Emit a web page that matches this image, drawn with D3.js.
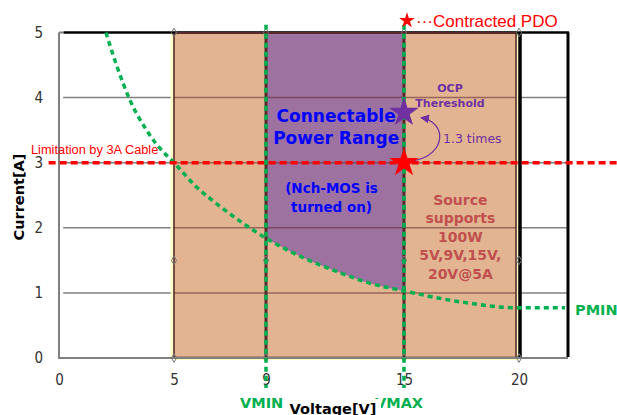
<!DOCTYPE html>
<html><head><meta charset="utf-8">
<script src="https://cdn.jsdelivr.net/npm/d3@7"></script>
<style>
html,body{margin:0;padding:0;background:#fff;}
svg{display:block;}
</style></head>
<body>
<svg id="c" width="617" height="415"></svg>
<script>
// ---- data ----
const xTicks = [0, 5, 9, 15, 20];
const yTicks = [0, 1, 2, 3, 4, 5];
const gridLevels = [1, 2, 3, 4];
const sourceRange = [5, 20];          // source supported voltage range [V]
const sourceMaxI = 5;                 // [A]
const vminV = 9, vmaxV = 15;
const cableLimitI = 3;
const contractedV = 15, contractedI = 3;
const ocpI = 3.77;
const pminV = [2.04, 2.5, 3.1, 3.75, 4.25, 5.0, 6.0, 7.0, 8.0, 9.0, 10.5, 12.0, 13.5, 15.0, 17.5, 20.0, 22.0];
const pminI = [5.0, 4.5, 3.95, 3.53, 3.28, 3.0, 2.62, 2.33, 2.07, 1.84, 1.56, 1.34, 1.15, 1.03, 0.86, 0.77, 0.77];
const markerV = [5, 9, 15, 20];
const markerI = [0, 1.5, 5];
const xMax = 22.13;

// ---- scales ----
const svg = d3.select("#c");
const x = d3.scaleLinear().domain([0, 20]).range([59, 519]);
const y = d3.scaleLinear().domain([0, 5]).range([358, 32.5]);

const orange = "#E2B492", purple = "#9D72A0", green = "#00B050", red = "#FF0000", brown = "#5A2A2A";

// gray gridlines
svg.append("g").selectAll("line").data(gridLevels).join("line")
  .attr("x1", x(0.18)).attr("x2", x(xMax)).attr("y1", d => y(d)).attr("y2", d => y(d))
  .attr("stroke", "#808080").attr("stroke-width", 1.5);

// source region
svg.append("rect")
  .attr("x", x(sourceRange[0])).attr("y", y(sourceMaxI))
  .attr("width", x(sourceRange[1]) - x(sourceRange[0]) - 3)
  .attr("height", y(0) - y(sourceMaxI))
  .attr("fill", orange);

// connectable power area
const pts = pminV.map((v, i) => [v, pminI[i]]);
const inRange = pts.filter(p => p[0] >= vminV && p[0] <= vmaxV);
svg.append("path").datum(inRange)
  .attr("d", d3.area().x(d => x(d[0])).y0(d => y(d[1])).y1(y(sourceMaxI)).curve(d3.curveMonotoneX))
  .attr("fill", purple);

// gridlines over fills
svg.append("g").selectAll("line").data(gridLevels).join("line")
  .attr("x1", x(sourceRange[0])).attr("x2", x(sourceRange[1]) - 3).attr("y1", d => y(d)).attr("y2", d => y(d))
  .attr("stroke", brown).attr("stroke-opacity", 0.55).attr("stroke-width", 1.5);

// region borders
const yel = "#FFFFC0";
svg.append("line").attr("x1", x(sourceRange[0]) - 2).attr("x2", x(sourceRange[0]) - 2)
  .attr("y1", y(sourceMaxI)).attr("y2", y(0)).attr("stroke", yel).attr("stroke-width", 2.5);
svg.append("line").attr("x1", x(sourceRange[1]) - 2).attr("x2", x(sourceRange[1]) - 2)
  .attr("y1", y(sourceMaxI)).attr("y2", y(0)).attr("stroke", yel).attr("stroke-width", 2.5);
svg.append("line").attr("x1", x(sourceRange[0])).attr("x2", x(sourceRange[1]))
  .attr("y1", y(0) + 1).attr("y2", y(0) + 1).attr("stroke", yel).attr("stroke-width", 2);
svg.append("rect")
  .attr("x", x(sourceRange[0])).attr("y", y(sourceMaxI))
  .attr("width", x(sourceRange[1]) - x(sourceRange[0]) - 3)
  .attr("height", y(0) - y(sourceMaxI) - 0.5)
  .attr("fill", "none").attr("stroke", brown).attr("stroke-width", 1.6);
svg.append("g").selectAll("line").data([vminV, vmaxV]).join("line")
  .attr("x1", d => x(d)).attr("x2", d => x(d)).attr("y1", y(sourceMaxI)).attr("y2", y(0))
  .attr("stroke", brown).attr("stroke-width", 3);

// axes lines (gray)
svg.append("line").attr("x1", x(0)).attr("x2", x(0)).attr("y1", y(5)).attr("y2", y(0) + 1)
  .attr("stroke", "#808080").attr("stroke-width", 2);
svg.append("line").attr("x1", x(0)).attr("x2", x(xMax)).attr("y1", y(0)).attr("y2", y(0))
  .attr("stroke", "#808080").attr("stroke-width", 2);
svg.append("line").attr("x1", x(0)).attr("x2", x(0.2)).attr("y1", y(5)).attr("y2", y(5))
  .attr("stroke", "#808080").attr("stroke-width", 2);

// black outline
svg.append("line").attr("x1", x(0.2)).attr("x2", x(xMax) + 1).attr("y1", y(5)).attr("y2", y(5))
  .attr("stroke", "#000").attr("stroke-width", 2.6);
svg.append("line").attr("x1", x(xMax)).attr("x2", x(xMax)).attr("y1", y(5)).attr("y2", y(0) - 1)
  .attr("stroke", "#000").attr("stroke-width", 3);
svg.append("line").attr("x1", x(sourceRange[1]) + 1).attr("x2", x(sourceRange[1]) + 1).attr("y1", y(5)).attr("y2", y(0) - 1)
  .attr("stroke", "#000").attr("stroke-width", 3.5);
svg.append("line").attr("x1", x(sourceRange[0]) + 1).attr("x2", x(sourceRange[1]) - 3).attr("y1", y(5) + 0.5).attr("y2", y(5) + 0.5)
  .attr("stroke", brown).attr("stroke-width", 2);

// diamond markers
const mk = [];
markerV.forEach(v => markerI.forEach(i => mk.push([v, i])));
svg.append("g").selectAll("path").data(mk).join("path")
  .attr("d", d3.symbol().type(d3.symbolDiamond).size(22))
  .attr("transform", d => `translate(${x(d[0])},${y(d[1])})`)
  .attr("fill", "none").attr("stroke", "#777").attr("stroke-width", 1);

// axis tick labels
const tickFont = "'DejaVu Sans Condensed','DejaVu Sans',sans-serif";
const yAxis = svg.append("g").attr("transform", `translate(${x(0)},0)`)
  .call(d3.axisLeft(y).tickValues(yTicks).tickSize(0).tickPadding(16).tickFormat(d3.format("d")));
const xAxis = svg.append("g").attr("transform", `translate(0,${y(0)})`)
  .call(d3.axisBottom(x).tickValues(xTicks).tickSize(0).tickPadding(16).tickFormat(d3.format("d")));
[xAxis, yAxis].forEach(a => {
  a.select(".domain").remove();
  a.selectAll("text").attr("font-family", tickFont).attr("font-size", 15).attr("fill", "#333");
});

// PMIN curve
svg.append("path").datum(pts)
  .attr("d", d3.line().x(d => x(d[0])).y(d => y(d[1])).curve(d3.curveMonotoneX))
  .attr("fill", "none").attr("stroke", green).attr("stroke-width", 3.5).attr("stroke-dasharray", "5,4");

// cable limit red dashed
svg.append("line").attr("x1", x(-0.45)).attr("x2", 617).attr("y1", y(cableLimitI)).attr("y2", y(cableLimitI))
  .attr("stroke", red).attr("stroke-width", 3.5).attr("stroke-dasharray", "7,4");

// VMIN / VMAX green dashed verticals
svg.append("g").selectAll("line").data([vminV, vmaxV]).join("line")
  .attr("x1", d => x(d)).attr("x2", d => x(d)).attr("y1", y(5.12)).attr("y2", y(-0.46))
  .attr("stroke", green).attr("stroke-width", 3.5).attr("stroke-dasharray", "5,4");

// stars
function starPath(R) {
  const r = R * 0.382, p = [];
  for (let k = 0; k < 10; k++) {
    const a = -Math.PI / 2 + k * Math.PI / 5, rr = k % 2 ? r : R;
    p.push([rr * Math.cos(a), rr * Math.sin(a)]);
  }
  return "M" + p.map(q => q.join(",")).join("L") + "Z";
}
// arrow
const defs = svg.append("defs");
defs.append("marker").attr("id", "ah").attr("viewBox", "0 0 10 10").attr("refX", 9).attr("refY", 5)
  .attr("markerWidth", 9).attr("markerHeight", 9).attr("markerUnits", "userSpaceOnUse").attr("orient", "auto")
  .append("path").attr("d", "M0,0L10,5L0,10Z").attr("fill", "#7030A0");
const sx = x(contractedV), sy = y(contractedI), oy = y(ocpI);
svg.append("path")
  .attr("d", `M${sx + 10},${sy - 2} C${sx + 42},${sy - 8} ${sx + 44},${oy + 10} ${sx + 17},${oy + 5}`)
  .attr("fill", "none").attr("stroke", "#7030A0").attr("stroke-width", 1.3).attr("marker-end", "url(#ah)");

svg.append("path").attr("d", starPath(15.5)).attr("transform", `translate(${x(contractedV)},${y(ocpI)})`).attr("fill", "#7030A0");
svg.append("path").attr("d", starPath(15.5)).attr("transform", `translate(${x(contractedV)},${y(contractedI)})`).attr("fill", red);

// legend
svg.append("path").attr("d", starPath(8.2)).attr("transform", "translate(407,20.5)").attr("fill", red);
svg.append("text").attr("x", 416).attr("y", 27).attr("font-family", "'Liberation Sans',Arial,sans-serif")
  .attr("font-size", 17).attr("fill", red).text("\u00B7\u00B7\u00B7Contracted PDO");

// texts
const bold = "'DejaVu Sans',Verdana,sans-serif";
svg.append("text").attr("x", 31).attr("y", 154).attr("font-family", "'Liberation Sans',Arial,sans-serif")
  .attr("font-size", 12.8).attr("fill", red).text("Limitation by 3A Cable");

function block(lines, cx, baselines, size, color, weight) {
  lines.forEach((t, k) => {
    svg.append("text").attr("x", cx).attr("y", baselines[k]).attr("text-anchor", "middle")
      .attr("font-family", bold).attr("font-weight", weight).attr("font-size", size).attr("fill", color).text(t);
  });
}
block(["Connectable", "Power Range"], x(12.05), [y(3.63), y(3.29)], 17, "#0000FF", "bold");
block(["(Nch-MOS is", "turned on)"], x(11.85), [y(2.54), y(2.25)], 13.5, "#0000FF", "bold");
block(["Source", "supports", "100W", "5V,9V,15V,", "20V@5A"], x(17.45),
      [y(2.352), y(2.068), y(1.784), y(1.5), y(1.216)], 14, "#C0504D", "bold");
block(["OCP", "Thereshold"], x(17.0), [y(4.09), y(3.86)], 11, "#7030A0", "bold");
svg.append("text").attr("x", 443).attr("y", y(3.31)).attr("font-family", bold).attr("font-size", 12.5)
  .attr("fill", "#7030A0").text("1.3 times");

svg.append("text").attr("x", 575).attr("y", 315).attr("font-family", bold).attr("font-weight", "bold")
  .attr("font-size", 14.5).attr("fill", green).text("PMIN");
svg.append("text").attr("x", 240).attr("y", 408).attr("font-family", bold).attr("font-weight", "bold")
  .attr("font-size", 14.5).attr("fill", green).text("VMIN");
svg.append("text").attr("x", 375).attr("y", 408).attr("font-family", bold).attr("font-weight", "bold")
  .attr("font-size", 14.5).attr("fill", green).text("VMAX");

// axis titles
svg.append("text").attr("transform", "translate(24,197) rotate(-90)").attr("text-anchor", "middle")
  .attr("font-family", bold).attr("font-weight", "bold").attr("font-size", 14.5).attr("fill", "#000").text("Current[A]");
svg.append("rect").attr("x", 285).attr("y", 399).attr("width", 96).attr("height", 16).attr("fill", "#fff");
svg.append("text").attr("x", 333).attr("y", 414).attr("text-anchor", "middle")
  .attr("font-family", bold).attr("font-weight", "bold").attr("font-size", 14.5).attr("fill", "#000").text("Voltage[V]");
</script>
</body></html>
